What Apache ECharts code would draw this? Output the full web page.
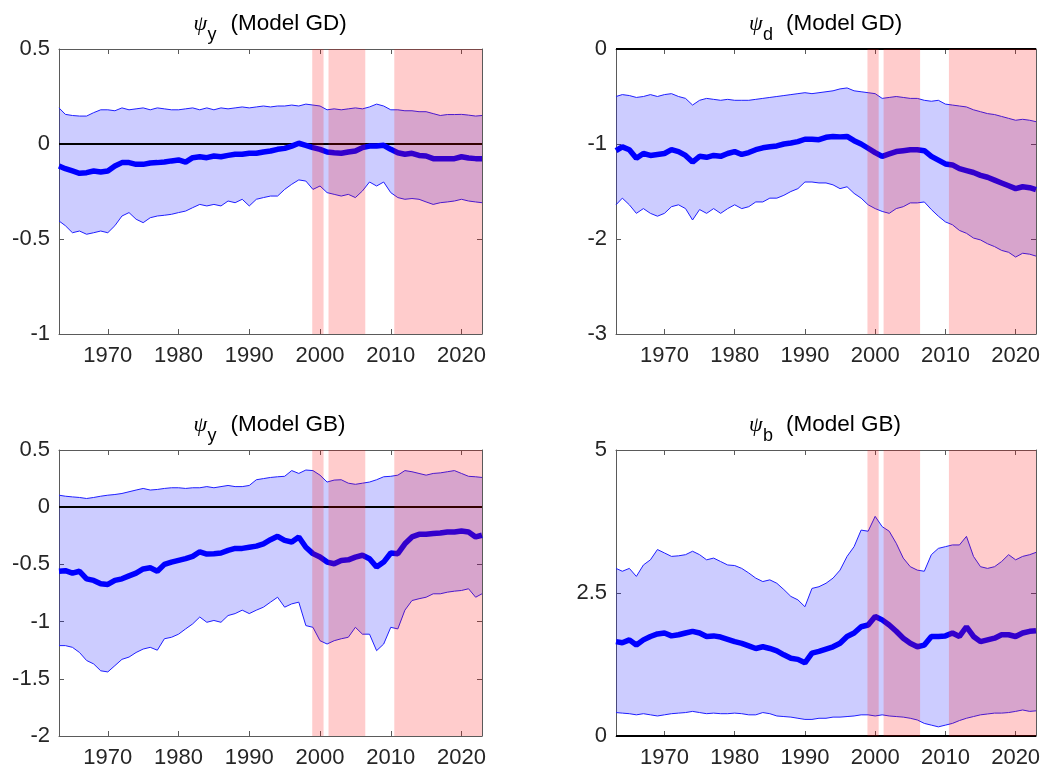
<!DOCTYPE html>
<html><head><meta charset="utf-8">
<script src="https://cdn.jsdelivr.net/npm/echarts@6/dist/echarts.min.js"></script>
<style>html,body{margin:0;padding:0;background:#fff}#c{width:1046px;height:769px}</style>
</head><body><div id="c"></div>
<script>
// ---- data ----
// x positions: first obs, 1964..2022, last obs
const YEARS = [1963.1,1964,1965,1966,1967,1968,1969,1970,1971,1972,
  1973,1974,1975,1976,1977,1978,1979,1980,1981,1982,
  1983,1984,1985,1986,1987,1988,1989,1990,1991,1992,
  1993,1994,1995,1996,1997,1998,1999,2000,2001,2002,
  2003,2004,2005,2006,2007,2008,2009,2010,2011,2012,
  2013,2014,2015,2016,2017,2018,2019,2020,2021,2022,
  2022.9];
const X_TICKS = [1970,1980,1990,2000,2010,2020];
const SHADES = [[1998.9,2000.5],[2001.2,2006.4],[2010.5,2022.9]];

// Panel 1: psi_y (Model GD)
const P1_UP = [0.19,0.156,0.15,0.147,0.147,0.165,0.18,0.18,0.175,0.19,
  0.18,0.185,0.19,0.18,0.19,0.185,0.18,0.18,0.185,0.19,
  0.18,0.19,0.18,0.19,0.185,0.19,0.195,0.19,0.195,0.2,
  0.195,0.2,0.2,0.205,0.2,0.21,0.205,0.2,0.18,0.185,
  0.18,0.185,0.19,0.185,0.195,0.21,0.2,0.18,0.18,0.175,
  0.175,0.17,0.17,0.16,0.15,0.155,0.155,0.156,0.152,0.147,
  0.15];
const P1_MED = [-0.116,-0.13,-0.142,-0.154,-0.151,-0.142,-0.147,-0.142,-0.116,-0.098,
  -0.098,-0.107,-0.107,-0.10,-0.098,-0.095,-0.089,-0.084,-0.095,-0.072,
  -0.067,-0.072,-0.063,-0.067,-0.06,-0.054,-0.054,-0.049,-0.049,-0.042,
  -0.037,-0.028,-0.023,-0.011,0.004,-0.007,-0.019,-0.028,-0.042,-0.046,
  -0.049,-0.042,-0.037,-0.019,-0.011,-0.011,-0.007,-0.028,-0.046,-0.054,
  -0.049,-0.06,-0.063,-0.077,-0.077,-0.077,-0.077,-0.067,-0.074,-0.077,
  -0.077];
const P1_LOW = [-0.405,-0.43,-0.467,-0.458,-0.475,-0.467,-0.458,-0.467,-0.43,-0.379,
  -0.361,-0.396,-0.414,-0.388,-0.379,-0.375,-0.37,-0.361,-0.353,-0.335,
  -0.318,-0.326,-0.318,-0.326,-0.3,-0.309,-0.291,-0.326,-0.291,-0.282,
  -0.274,-0.274,-0.239,-0.212,-0.189,-0.195,-0.239,-0.221,-0.256,-0.265,
  -0.274,-0.265,-0.282,-0.247,-0.2,-0.221,-0.2,-0.256,-0.282,-0.291,
  -0.287,-0.291,-0.305,-0.318,-0.309,-0.305,-0.3,-0.291,-0.3,-0.305,
  -0.309];

// Panel 2: psi_d (Model GD)
const P2_UP = [-0.50,-0.48,-0.49,-0.51,-0.50,-0.48,-0.50,-0.48,-0.47,-0.50,
  -0.52,-0.59,-0.54,-0.52,-0.53,-0.54,-0.53,-0.54,-0.54,-0.54,
  -0.53,-0.52,-0.51,-0.50,-0.49,-0.48,-0.47,-0.46,-0.47,-0.46,
  -0.45,-0.44,-0.42,-0.41,-0.44,-0.45,-0.46,-0.47,-0.52,-0.51,
  -0.50,-0.51,-0.52,-0.52,-0.54,-0.55,-0.54,-0.58,-0.59,-0.60,
  -0.61,-0.64,-0.66,-0.68,-0.69,-0.71,-0.73,-0.75,-0.74,-0.75,
  -0.765];
const P2_MED = [-1.07,-1.03,-1.06,-1.15,-1.10,-1.12,-1.11,-1.10,-1.06,-1.08,
  -1.12,-1.19,-1.13,-1.14,-1.12,-1.13,-1.10,-1.08,-1.11,-1.09,
  -1.06,-1.04,-1.03,-1.02,-1.0,-0.99,-0.975,-0.95,-0.95,-0.955,
  -0.93,-0.92,-0.925,-0.92,-0.965,-1.0,-1.045,-1.09,-1.13,-1.105,
  -1.08,-1.07,-1.06,-1.06,-1.07,-1.13,-1.17,-1.21,-1.22,-1.26,
  -1.28,-1.30,-1.33,-1.35,-1.38,-1.41,-1.44,-1.47,-1.45,-1.46,
  -1.48];
const P2_LOW = [-1.64,-1.57,-1.64,-1.73,-1.68,-1.73,-1.76,-1.73,-1.66,-1.64,
  -1.68,-1.80,-1.69,-1.73,-1.68,-1.73,-1.68,-1.64,-1.68,-1.66,
  -1.61,-1.61,-1.57,-1.57,-1.54,-1.50,-1.47,-1.40,-1.40,-1.41,
  -1.41,-1.43,-1.47,-1.45,-1.52,-1.57,-1.64,-1.68,-1.71,-1.73,
  -1.68,-1.66,-1.62,-1.62,-1.61,-1.69,-1.76,-1.82,-1.85,-1.91,
  -1.94,-1.99,-2.01,-2.05,-2.08,-2.12,-2.14,-2.19,-2.15,-2.16,
  -2.18];

// Panel 3: psi_y (Model GB)
const P3_UP = [0.105,0.096,0.09,0.085,0.076,0.085,0.096,0.105,0.111,0.12,
  0.135,0.15,0.164,0.15,0.155,0.164,0.17,0.17,0.164,0.17,
  0.17,0.18,0.17,0.18,0.19,0.18,0.18,0.19,0.24,0.25,
  0.26,0.266,0.27,0.32,0.295,0.325,0.32,0.28,0.22,0.237,
  0.24,0.21,0.2,0.21,0.22,0.24,0.266,0.27,0.28,0.32,
  0.31,0.295,0.28,0.295,0.3,0.31,0.32,0.295,0.27,0.266,
  0.26];
const P3_MED = [-0.56,-0.555,-0.576,-0.56,-0.626,-0.64,-0.67,-0.675,-0.64,-0.626,
  -0.6,-0.576,-0.54,-0.53,-0.56,-0.5,-0.48,-0.465,-0.45,-0.43,
  -0.39,-0.41,-0.406,-0.4,-0.377,-0.36,-0.36,-0.35,-0.34,-0.32,
  -0.284,-0.254,-0.29,-0.304,-0.26,-0.35,-0.406,-0.436,-0.48,-0.494,
  -0.465,-0.46,-0.436,-0.42,-0.45,-0.523,-0.48,-0.4,-0.406,-0.32,
  -0.26,-0.237,-0.237,-0.23,-0.225,-0.216,-0.216,-0.208,-0.216,-0.26,
  -0.245];
const P3_LOW = [-1.21,-1.21,-1.225,-1.27,-1.34,-1.37,-1.43,-1.44,-1.385,-1.33,
  -1.31,-1.27,-1.24,-1.225,-1.25,-1.15,-1.137,-1.11,-1.064,-1.02,
  -0.96,-1.006,-0.99,-1.006,-0.947,-0.93,-0.90,-0.93,-0.90,-0.874,
  -0.83,-0.787,-0.874,-0.845,-0.83,-1.035,-1.05,-1.167,-1.196,-1.167,
  -1.15,-1.137,-1.05,-1.11,-1.11,-1.254,-1.196,-1.05,-1.064,-0.9,
  -0.816,-0.8,-0.787,-0.757,-0.757,-0.743,-0.734,-0.728,-0.713,-0.787,
  -0.757];

// Panel 4: psi_b (Model GB)
const P4_UP = [2.93,2.88,2.93,2.79,2.99,3.08,3.26,3.2,3.14,3.15,
  3.17,3.23,3.17,3.08,3.11,3.05,2.99,2.98,2.93,2.85,
  2.76,2.7,2.73,2.67,2.56,2.44,2.38,2.26,2.58,2.61,
  2.67,2.76,2.9,3.14,3.31,3.6,3.58,3.84,3.66,3.58,
  3.37,3.11,2.96,2.9,2.88,3.17,3.28,3.31,3.34,3.34,
  3.49,3.14,2.96,2.93,2.96,3.05,3.17,3.08,3.14,3.17,
  3.21];
const P4_MED = [1.65,1.63,1.68,1.59,1.68,1.74,1.785,1.8,1.75,1.77,
  1.8,1.83,1.8,1.74,1.75,1.73,1.69,1.65,1.62,1.575,
  1.53,1.56,1.53,1.49,1.42,1.36,1.34,1.28,1.45,1.48,
  1.52,1.56,1.62,1.74,1.8,1.91,1.94,2.09,2.03,1.94,
  1.83,1.71,1.62,1.56,1.59,1.74,1.74,1.75,1.8,1.74,
  1.91,1.74,1.65,1.68,1.71,1.77,1.77,1.74,1.8,1.83,
  1.84];
const P4_LOW = [0.41,0.4,0.39,0.37,0.39,0.37,0.35,0.37,0.39,0.4,
  0.41,0.43,0.41,0.39,0.4,0.39,0.39,0.4,0.39,0.37,
  0.37,0.41,0.39,0.35,0.34,0.33,0.31,0.29,0.29,0.31,
  0.31,0.33,0.33,0.34,0.35,0.37,0.37,0.35,0.37,0.35,
  0.34,0.33,0.31,0.28,0.22,0.19,0.16,0.19,0.22,0.27,
  0.31,0.34,0.37,0.385,0.4,0.4,0.41,0.43,0.455,0.43,
  0.44];

const TITLES = [['y','(Model GD)'],['d','(Model GD)'],['y','(Model GB)'],['b','(Model GB)']];
const Y_RANGES = [[-1,0.5,0.5],[-3,0,1],[-2,0.5,0.5],[0,5,2.5]];

// ---- layout & style ----
const GRIDS = [
  {left:59, top:49, width:423, height:285},
  {left:616, top:49, width:420, height:285},
  {left:59, top:450, width:423, height:286},
  {left:616, top:450, width:420, height:286}
];
const X_MIN = 1963.1, X_MAX = 2022.9;
const SANS = '"Liberation Sans", Arial, Helvetica, sans-serif';
const AXIS_COLOR = '#5a5a5a';
const LABEL_COLOR = '#262626';
const THIN = 'rgb(30,30,255)';

const panels = [
  {up:P1_UP, med:P1_MED, low:P1_LOW},
  {up:P2_UP, med:P2_MED, low:P2_LOW},
  {up:P3_UP, med:P3_MED, low:P3_LOW},
  {up:P4_UP, med:P4_MED, low:P4_LOW}
];

const option = {animation:false, grid:[], xAxis:[], yAxis:[], series:[], graphic:[]};
const pts = arr => arr.map((v,i)=>[YEARS[i], v]);

panels.forEach((p,k)=>{
  const g = GRIDS[k];
  option.grid.push(Object.assign({show:false}, g));
  const axisLine = {show:true, onZero:false, lineStyle:{color:AXIS_COLOR, width:1}};
  const tick = {show:true, inside:true, length:5, lineStyle:{color:AXIS_COLOR, width:1}};
  const labelStyle = {fontSize:22, color:LABEL_COLOR, fontFamily:SANS};
  option.xAxis.push({type:'value', gridIndex:k, min:X_MIN, max:X_MAX, position:'bottom',
    axisLine, axisTick:Object.assign({customValues:X_TICKS}, tick),
    axisLabel:Object.assign({customValues:X_TICKS, margin:11, formatter:v=>String(Math.round(v))}, labelStyle),
    splitLine:{show:false}});
  option.xAxis.push({type:'value', gridIndex:k, min:X_MIN, max:X_MAX, position:'top',
    axisLine, axisTick:Object.assign({customValues:X_TICKS}, tick),
    axisLabel:{show:false}, splitLine:{show:false}});
  const [ymin, ymax, yint] = Y_RANGES[k];
  option.yAxis.push({type:'value', gridIndex:k, min:ymin, max:ymax, interval:yint, position:'left',
    axisLine, axisTick:tick,
    axisLabel:Object.assign({margin:9, formatter:v=>String(+(+v).toFixed(2))}, labelStyle),
    splitLine:{show:false}});
  option.yAxis.push({type:'value', gridIndex:k, min:ymin, max:ymax, interval:yint, position:'right',
    axisLine, axisTick:tick, axisLabel:{show:false}, splitLine:{show:false}});

  const base = {xAxisIndex:2*k, yAxisIndex:2*k, silent:true, animation:false};
  const line = Object.assign({type:'line', symbol:'none', showSymbol:false}, base);

  // credible band: one polygon, upper edge forward then lower edge backward
  option.series.push(Object.assign({}, base, {type:'custom', z:2, clip:true,
    data: YEARS.map((x,i)=>[x, p.low[i], p.up[i]]),
    encode:{x:0, y:[1,2]},
    renderItem:(params, api)=>{
      if (params.dataIndex !== 0) return null;
      const top = YEARS.map((x,i)=>api.coord([x, p.up[i]]));
      const bot = YEARS.map((x,i)=>api.coord([x, p.low[i]])).reverse();
      return {type:'polygon', shape:{points: top.concat(bot)},
        style:{fill:'rgba(0,0,255,0.2)', stroke:null}};
    }}));
  option.series.push(Object.assign({}, line, {data:pts(p.low), z:3,
    lineStyle:{color:THIN, width:1},
    markLine:{silent:true, z:3, symbol:'none', label:{show:false}, animation:false,
      lineStyle:{color:'#000', width:2, type:'solid'}, data:[{yAxis:0}]}}));
  option.series.push(Object.assign({}, line, {data:pts(p.up), z:3, lineStyle:{color:THIN, width:1}}));
  option.series.push(Object.assign({}, line, {data:pts(p.med), z:4, lineStyle:{color:'#0000ff', width:5.5}}));
  option.series.push(Object.assign({}, line, {data:pts(p.med), z:1, lineStyle:{opacity:0, width:0},
    markArea:{silent:true, z:6, animation:false, itemStyle:{color:'rgba(255,0,0,0.2)', borderWidth:0},
      data:SHADES.map(s=>[{xAxis:s[0]},{xAxis:s[1]}])}}));

  // title: psi_sub  (Model XX)
  const cx = g.left + g.width/2;
  const ty = g.top - 25;
  option.graphic.push({type:'text', x:cx-77, y:ty, silent:true,
    style:{text:'\u03C8', font:'italic 22px "Liberation Serif", "DejaVu Serif", serif', fill:'#000', align:'left', verticalAlign:'middle'}});
  option.graphic.push({type:'text', x:cx-63, y:ty+11, silent:true,
    style:{text:TITLES[k][0], font:'18px '+SANS, fill:'#000', align:'left', verticalAlign:'middle'}});
  option.graphic.push({type:'text', x:cx-40, y:ty, silent:true,
    style:{text:TITLES[k][1], font:'22.5px '+SANS, fill:'#000', align:'left', verticalAlign:'middle'}});
});

const chart = echarts.init(document.getElementById('c'), null, {renderer:'canvas'});
chart.setOption(option);
</script>
</body></html>
